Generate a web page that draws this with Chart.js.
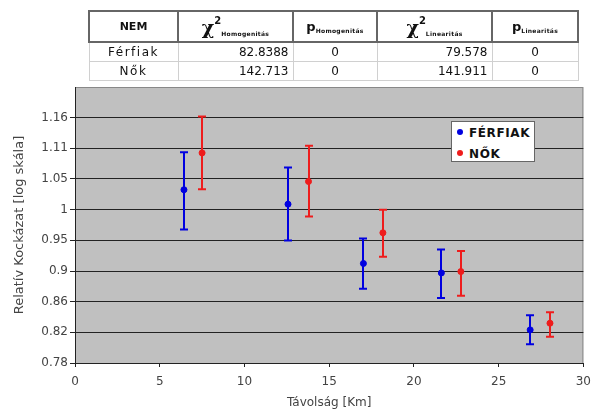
<!DOCTYPE html>
<html>
<head>
<meta charset="utf-8">
<script src="https://cdn.jsdelivr.net/npm/chart.js@4"></script>
<style>
body{margin:0;background:#fff;}
#wrap{position:relative;width:599px;height:414px;overflow:hidden;font-family:"DejaVu Sans",sans-serif;}
#chart{position:absolute;left:0;top:0;}
#stats{position:absolute;left:88px;top:10px;border-collapse:collapse;table-layout:fixed;color:#111;}
#stats th{border:2px solid #666;height:29px;font-weight:bold;font-size:11px;text-align:center;padding:0;white-space:nowrap;}
#stats td{border:1px solid #d0d0d0;height:18px;font-size:12px;padding:0 4px;white-space:nowrap;}
#stats .big{font-size:19px;font-family:"DejaVu Serif",serif;}
#stats sup{font-size:10px;vertical-align:10px;}
#stats sub{font-size:6px;vertical-align:-2px;letter-spacing:0.3px;}
#stats .pp{font-size:13px;}
#legend{position:absolute;left:451px;top:121px;width:82px;height:39px;background:#fff;border:1px solid #666;}
#legend div{position:absolute;left:5px;font:bold 12px "DejaVu Sans",sans-serif;letter-spacing:0.6px;color:#111;}
#legend span{display:inline-block;width:6px;height:6px;border-radius:3px;margin-right:6px;vertical-align:2px;}
</style>
</head>
<body>
<div id="wrap">
<canvas id="chart" width="599" height="414"></canvas>
<table id="stats"></table>
<div id="legend"></div>
</div>
<script>
// table
const groups = ["Férfiak", "Nők"];
const chi2Hom = ["82.8388", "142.713"];
const pHom = ["0", "0"];
const chi2Lin = ["79.578", "141.911"];
const pLin = ["0", "0"];

// chart data (relative risk, distance in km)
const distMen = [6.43, 12.57, 17.02, 21.62, 26.86];
const rrMen = [1.033, 1.009, 0.916, 0.902, 0.822];
const lowMen = [0.968, 0.951, 0.879, 0.866, 0.803];
const highMen = [1.098, 1.071, 0.954, 0.937, 0.842];

const distWomen = [7.50, 13.78, 18.17, 22.77, 28.03];
const rrWomen = [1.097, 1.047, 0.963, 0.904, 0.831];
const lowWomen = [1.034, 0.989, 0.926, 0.869, 0.813];
const highWomen = [1.164, 1.110, 1.000, 0.935, 0.846];

const yTickValues = [0.7788, 0.8187, 0.8607, 0.9048, 0.9512, 1, 1.0513, 1.1052, 1.1618];
const yTickLabels = ["0.78", "0.82", "0.86", "0.9", "0.95", "1", "1.05", "1.11", "1.16"];
const xTicks = [0, 5, 10, 15, 20, 25, 30];

// build table
const colW = [89, 115, 84, 115, 86];
let html = '<colgroup>' + colW.map(w => '<col style="width:' + w + 'px">').join('') + '</colgroup>';
html += '<tr><th>NEM</th>' +
  '<th><span class="big">χ</span><sup>2</sup><sub>Homogenitás</sub></th>' +
  '<th><span class="pp">p</span><sub>Homogenitás</sub></th>' +
  '<th><span class="big">χ</span><sup>2</sup><sub>Linearitás</sub></th>' +
  '<th><span class="pp">p</span><sub>Linearitás</sub></th></tr>';
for (let i = 0; i < groups.length; i++) {
  html += '<tr><td style="text-align:center;letter-spacing:1.5px">' + groups[i] + '</td>' +
    '<td style="text-align:right">' + chi2Hom[i] + '</td>' +
    '<td style="text-align:center">' + pHom[i] + '</td>' +
    '<td style="text-align:right">' + chi2Lin[i] + '</td>' +
    '<td style="text-align:center">' + pLin[i] + '</td></tr>';
}
document.getElementById('stats').innerHTML = html;

const pts = (xs, ys, lo, hi) => xs.map((x, i) => ({x: x, y: ys[i], lo: lo[i], hi: hi[i]}));

// error bars + plot background
const errorBars = {
  id: 'errorBars',
  beforeDraw(chart) {
    const a = chart.chartArea, c = chart.ctx;
    c.save();
    c.fillStyle = '#c0c0c0';
    c.fillRect(a.left, a.top, a.right - a.left, a.bottom - a.top);
    c.strokeStyle = '#888';
    c.lineWidth = 1;
    c.strokeRect(a.left + 0.5, a.top + 0.5, a.right - a.left - 1, a.bottom - a.top);
    c.restore();
  },
  afterDatasetsDraw(chart) {
    const c = chart.ctx, xs = chart.scales.x, ys = chart.scales.y;
    chart.data.datasets.forEach(ds => {
      c.save();
      c.strokeStyle = ds.borderColor;
      c.lineWidth = 2;
      ds.data.forEach(p => {
        const px = Math.round(xs.getPixelForValue(p.x));
        const top = ys.getPixelForValue(p.hi), bot = ys.getPixelForValue(p.lo);
        c.beginPath();
        c.moveTo(px, top); c.lineTo(px, bot);
        c.moveTo(px - 4, top); c.lineTo(px + 4, top);
        c.moveTo(px - 4, bot); c.lineTo(px + 4, bot);
        c.stroke();
      });
      c.restore();
    });
  }
};

const chart = new Chart(document.getElementById('chart'), {
  type: 'scatter',
  data: {
    datasets: [
      {label: 'FÉRFIAK', data: pts(distMen, rrMen, lowMen, highMen), backgroundColor: '#0000e0', borderColor: '#0000e0', pointRadius: 3},
      {label: 'NŐK', data: pts(distWomen, rrWomen, lowWomen, highWomen), backgroundColor: '#ee1c1c', borderColor: '#ee1c1c', pointRadius: 3}
    ]
  },
  options: {
    responsive: false,
    animation: false,
    layout: {padding: {top: 87, right: 11, left: 0, bottom: 0}},
    plugins: {legend: {display: false}, tooltip: {enabled: false}},
    scales: {
      x: {
        type: 'linear', min: 0, max: 30,
        afterBuildTicks: s => { s.ticks = xTicks.map(v => ({value: v})); },
        afterFit: s => { s.height = 51; },
        grid: {drawOnChartArea: false, color: '#222', tickLength: 4},
        border: {color: '#222', width: 1},
        ticks: {color: '#444', font: {family: 'DejaVu Sans', size: 12}, padding: 8, maxRotation: 0},
        title: {display: true, text: 'Távolság [Km]', color: '#444', font: {family: 'DejaVu Sans', size: 12}, padding: {top: 0, bottom: 4}}
      },
      y: {
        type: 'logarithmic', min: 0.7788, max: 1.2214,
        afterBuildTicks: s => { s.ticks = yTickValues.map(v => ({value: v})); },
        afterFit: s => { s.width = 75; },
        grid: {color: '#222', lineWidth: 1, tickLength: 5},
        border: {color: '#222', width: 1},
        ticks: {color: '#444', font: {family: 'DejaVu Sans', size: 12}, padding: 2, callback: (v, i) => yTickLabels[i]},
        title: {display: true, text: 'Relatív Kockázat [log skála]', color: '#444', font: {family: 'DejaVu Sans', size: 13}, padding: {top: 12, bottom: 0}}
      }
    }
  },
  plugins: [errorBars]
});

// legend
const leg = document.getElementById('legend');
chart.data.datasets.forEach((ds, i) => {
  const d = document.createElement('div');
  d.style.top = (4 + i * 21) + 'px';
  d.innerHTML = '<span style="background:' + ds.backgroundColor + '"></span>' + ds.label;
  leg.appendChild(d);
});
</script>
</body>
</html>
